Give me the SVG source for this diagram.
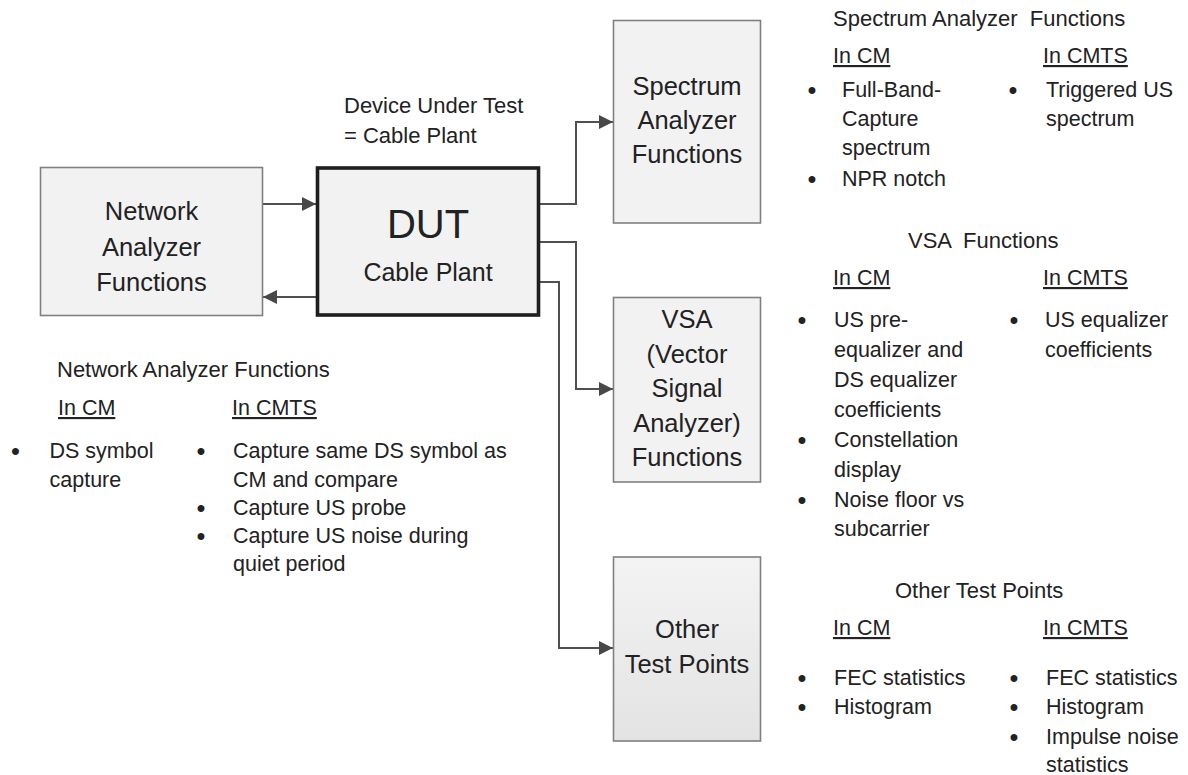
<svg xmlns="http://www.w3.org/2000/svg" width="1188" height="775" viewBox="0 0 1188 775">
<defs>
<marker id="arrow" markerUnits="userSpaceOnUse" markerWidth="14" markerHeight="14" refX="14" refY="7" orient="auto"><path d="M0,0 L14,7 L0,14 z" fill="#484848"/></marker>
<linearGradient id="grad" x1="0" y1="0" x2="0" y2="1"><stop offset="0" stop-color="#f3f3f3"/><stop offset="1" stop-color="#e3e3e3"/></linearGradient>
</defs>
<style>
text{font-family:"Liberation Sans",Arial,sans-serif;fill:#222}
.box{fill:#f2f2f2;stroke:#808080;stroke-width:1.6}
.dut{fill:#f2f2f2;stroke:#1e1e1e;stroke-width:3.6}
.bt{font-size:25.5px;text-anchor:middle}
.conn{fill:none;stroke:#505050;stroke-width:2}
.t{font-size:21.5px}
.h{font-size:21.5px;text-decoration:underline}
.ti{font-size:22px}
.b{font-size:24px;font-weight:bold;text-anchor:middle}
</style>
<rect x="0" y="0" width="1188" height="775" fill="#ffffff"/>

<g id="connectors">
<line class="conn" x1="262" y1="204" x2="316" y2="204" marker-end="url(#arrow)"/>
<line class="conn" x1="316" y1="297" x2="263" y2="297" marker-end="url(#arrow)"/>
<polyline class="conn" points="540,204 576,204 576,122 613,122" marker-end="url(#arrow)"/>
<polyline class="conn" points="540,242 576,242 576,389 613,389" marker-end="url(#arrow)"/>
<polyline class="conn" points="540,282 559,282 559,648 613,648" marker-end="url(#arrow)"/>
</g>

<g id="network-analyzer">
<rect class="box" x="40.5" y="167.5" width="222" height="148"/>
<text class="bt" x="151.5" y="220">Network</text>
<text class="bt" x="151.5" y="256">Analyzer</text>
<text class="bt" x="151.5" y="291">Functions</text>
</g>

<g id="dut">
<rect class="dut" x="317.5" y="168" width="221" height="147"/>
<text x="428" y="238" style="font-size:40px;text-anchor:middle">DUT</text>
<text x="428" y="281" style="font-size:25px;text-anchor:middle">Cable Plant</text>
</g>

<g id="dut-label">
<text x="344" y="113" style="font-size:22px">Device Under Test</text>
<text x="344" y="143" style="font-size:22px">= Cable Plant</text>
</g>

<g id="spectrum-analyzer">
<rect class="box" x="613.5" y="20.5" width="147" height="202.5"/>
<text class="bt" x="687" y="95">Spectrum</text>
<text class="bt" x="687" y="129">Analyzer</text>
<text class="bt" x="687" y="163">Functions</text>
</g>

<g id="vsa">
<rect class="box" x="613.5" y="297.5" width="147" height="184.5"/>
<text class="bt" x="687" y="328">VSA</text>
<text class="bt" x="687" y="363">(Vector</text>
<text class="bt" x="687" y="397">Signal</text>
<text class="bt" x="687" y="432">Analyzer)</text>
<text class="bt" x="687" y="466">Functions</text>
</g>

<g id="other-test-points">
<rect x="613.5" y="557" width="147" height="184" fill="url(#grad)" stroke="#808080" stroke-width="1.6"/>
<text class="bt" x="687" y="638">Other</text>
<text class="bt" x="687" y="673">Test Points</text>
</g>

<g id="na-list">
<text class="ti" x="57" y="377">Network Analyzer Functions</text>
<text class="h" x="58" y="415">In CM</text>
<text class="h" x="232" y="415">In CMTS</text>
<text class="b" x="15.5" y="459">•</text>
<text class="t" x="49.5" y="458">DS symbol</text>
<text class="t" x="49.5" y="487">capture</text>
<text class="b" x="201" y="459">•</text>
<text class="t" x="233" y="458">Capture same DS symbol as</text>
<text class="t" x="233" y="487">CM and compare</text>
<text class="b" x="201" y="516">•</text>
<text class="t" x="233" y="515">Capture US probe</text>
<text class="b" x="201" y="544">•</text>
<text class="t" x="233" y="543">Capture US noise during</text>
<text class="t" x="233" y="571">quiet period</text>
</g>

<g id="spectrum-list">
<text class="ti" x="833" y="26" xml:space="preserve">Spectrum Analyzer  Functions</text>
<text class="h" x="833" y="63">In CM</text>
<text class="h" x="1043" y="63">In CMTS</text>
<text class="b" x="812" y="98">•</text>
<text class="t" x="842" y="97">Full-Band-</text>
<text class="t" x="842" y="126">Capture</text>
<text class="t" x="842" y="155">spectrum</text>
<text class="b" x="812" y="187">•</text>
<text class="t" x="842" y="186">NPR notch</text>
<text class="b" x="1013" y="98">•</text>
<text class="t" x="1046" y="97">Triggered US</text>
<text class="t" x="1046" y="126">spectrum</text>
</g>

<g id="vsa-list">
<text class="ti" x="908" y="248" xml:space="preserve">VSA  Functions</text>
<text class="h" x="833" y="285">In CM</text>
<text class="h" x="1043" y="285">In CMTS</text>
<text class="b" x="802" y="328">•</text>
<text class="t" x="834" y="327">US pre-</text>
<text class="t" x="834" y="357">equalizer and</text>
<text class="t" x="834" y="387">DS equalizer</text>
<text class="t" x="834" y="417">coefficients</text>
<text class="b" x="802" y="448">•</text>
<text class="t" x="834" y="447">Constellation</text>
<text class="t" x="834" y="477">display</text>
<text class="b" x="802" y="508">•</text>
<text class="t" x="834" y="507">Noise floor vs</text>
<text class="t" x="834" y="536">subcarrier</text>
<text class="b" x="1014" y="328">•</text>
<text class="t" x="1045" y="327">US equalizer</text>
<text class="t" x="1045" y="357">coefficients</text>
</g>

<g id="other-list">
<text class="ti" x="895" y="598">Other Test Points</text>
<text class="h" x="833" y="635">In CM</text>
<text class="h" x="1043" y="635">In CMTS</text>
<text class="b" x="802" y="686">•</text>
<text class="t" x="834" y="685">FEC statistics</text>
<text class="b" x="802" y="715">•</text>
<text class="t" x="834" y="714">Histogram</text>
<text class="b" x="1014" y="686">•</text>
<text class="t" x="1046" y="685">FEC statistics</text>
<text class="b" x="1014" y="715">•</text>
<text class="t" x="1046" y="714">Histogram</text>
<text class="b" x="1014" y="745">•</text>
<text class="t" x="1046" y="744">Impulse noise</text>
<text class="t" x="1046" y="772">statistics</text>
</g>
</svg>
